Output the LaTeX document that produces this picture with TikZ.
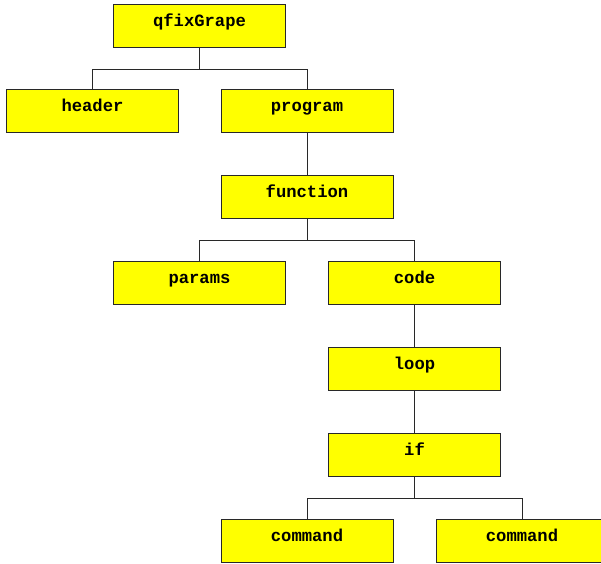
\documentclass[tikz,border=0pt]{standalone}
\usepackage{fontspec}
\setmonofont{Liberation Mono}
\definecolor{boxyellow}{RGB}{255,255,0}
\definecolor{boxline}{RGB}{40,40,40}
\begin{document}
\begin{tikzpicture}[x=1pt,y=-1pt,
  treebox/.style={draw=boxline, line width=0.8pt, fill=boxyellow, inner sep=0pt,
    minimum width=172pt, minimum height=43pt, text height=12pt, text depth=11pt,
    font=\ttfamily\bfseries\fontsize{17.2}{17.2}\selectfont},
  edge/.style={draw=boxline, line width=0.8pt}]
\useasboundingbox (0,0) rectangle (601,563);
% boxes, positioned by centre
\node[treebox] (root)   at (199.5, 25.5)  {qfixGrape};
\node[treebox] (header) at (92.5, 111)    {header};
\node[treebox] (prog)   at (307, 111)     {program};
\node[treebox] (func)   at (307, 197)     {function};
\node[treebox] (params) at (199.5, 283)   {params};
\node[treebox] (code)   at (414.5, 283)   {code};
\node[treebox] (loop)   at (414.5, 369)   {loop};
\node[treebox] (ifn)    at (414.5, 455)   {if};
\node[treebox] (cmda)   at (307, 541)     {command};
\node[treebox] (cmdb)   at (522, 541)     {command};
% connectors: down, across, down
\foreach \p/\a/\b in {root/header/prog, func/params/code, ifn/cmda/cmdb}{
  \draw[edge] (\p.south) -- ++(0,21.5) coordinate (\p-mid);
  \draw[edge] (\a.north) |- (\p-mid) -| (\b.north);
}
\draw[edge] (prog.south) -- (func.north);
\draw[edge] (code.south) -- (loop.north);
\draw[edge] (loop.south) -- (ifn.north);
\end{tikzpicture}
\end{document}
